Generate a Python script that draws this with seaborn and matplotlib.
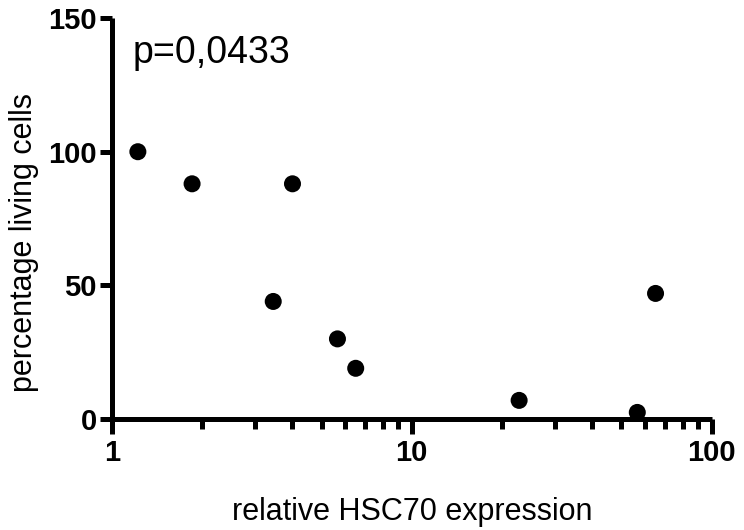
import matplotlib
matplotlib.use("Agg")
import matplotlib.pyplot as plt
import matplotlib.ticker as mticker
import seaborn as sns
import pandas as pd

# values
hsc70_expression = [1.22, 1.85, 3.45, 4.0, 5.65, 6.5, 22.8, 56.5, 65.0]
living_cells = [100, 88, 44, 88, 30, 19, 7, 2.5, 47]
x_ticks = [1, 10, 100]
y_ticks = [0, 50, 100, 150]
p_label = "p=0,0433"

df = pd.DataFrame({"hsc70": hsc70_expression, "living": living_cells})

sns.set_style("ticks", {"axes.edgecolor": "black", "text.color": "black",
                        "xtick.color": "black", "ytick.color": "black",
                        "axes.labelcolor": "black"})
plt.rcParams["font.family"] = ["Liberation Sans", "DejaVu Sans"]

fig = plt.figure(figsize=(7.44, 5.30), dpi=100)
ax = fig.add_axes([0.1505, 0.183, 0.806, 0.783])

sns.scatterplot(data=df, x="hsc70", y="living", color="black", s=150,
                edgecolor="none", ax=ax, legend=False)

ax.set_xscale("log")
ax.set_xlim(1, 100)
ax.set_ylim(-5.2, 150)
ax.set_xticks(x_ticks)
ax.xaxis.set_major_formatter(mticker.FuncFormatter(lambda v, _: f"{v:g}"))
ax.xaxis.set_minor_locator(mticker.LogLocator(base=10, subs=range(2, 10)))
ax.xaxis.set_minor_formatter(mticker.NullFormatter())
ax.set_yticks(y_ticks)

for side in ["top", "right"]:
    ax.spines[side].set_visible(False)
ax.spines["bottom"].set_position(("data", 0))
for side in ["left", "bottom"]:
    ax.spines[side].set_linewidth(3.6)
    ax.spines[side].set_capstyle("butt")
    ax.spines[side].set_color("black")

ax.tick_params(axis="both", which="major", width=3.6, length=9, labelsize=21,
               pad=2, colors="black")
ax.tick_params(axis="x", which="major", length=11, pad=3)
ax.tick_params(axis="x", which="minor", width=3.6, length=7, colors="black")
for lbl in ax.get_xticklabels() + ax.get_yticklabels():
    lbl.set_fontweight("bold")

ax.set_xlabel("relative HSC70 expression", fontsize=22, color="black")
ax.xaxis.set_label_coords(0.5, -0.153)
ax.set_ylabel("percentage living cells", fontsize=22, color="black")
ax.yaxis.set_label_coords(-0.122, 0.458)

ax.text(0.035, 0.892, p_label, transform=ax.transAxes, fontsize=27,
        va="baseline", ha="left", color="black")

fig.savefig("out.png", dpi=100)
